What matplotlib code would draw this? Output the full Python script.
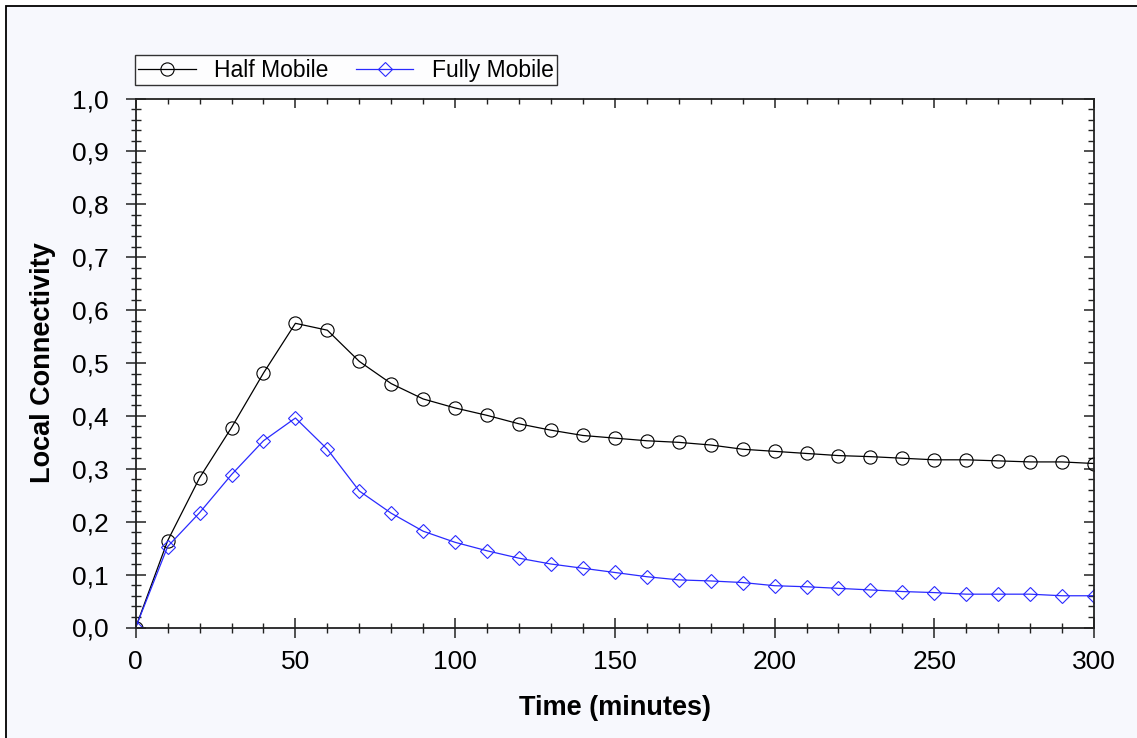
import matplotlib.pyplot as plt
from matplotlib.patches import Rectangle
from matplotlib.ticker import FixedLocator, MultipleLocator


# Daten
TIME_MIN = [0, 10, 20, 30, 40, 50, 60, 70, 80, 90, 100, 110, 120, 130, 140, 150,
            160, 170, 180, 190, 200, 210, 220, 230, 240, 250, 260, 270, 280, 290, 300]

HALF_MOBILE = [0.0, 0.164, 0.283, 0.378, 0.481, 0.575, 0.562, 0.503, 0.461, 0.432,
               0.415, 0.401, 0.385, 0.373, 0.363, 0.358, 0.353, 0.350, 0.345, 0.337,
               0.333, 0.329, 0.325, 0.323, 0.320, 0.317, 0.317, 0.315, 0.313, 0.313,
               0.310]

FULLY_MOBILE = [0.0, 0.153, 0.217, 0.289, 0.353, 0.396, 0.337, 0.258, 0.216, 0.182,
                0.161, 0.145, 0.131, 0.120, 0.112, 0.104, 0.096, 0.090, 0.088, 0.085,
                0.079, 0.077, 0.074, 0.071, 0.068, 0.066, 0.063, 0.063, 0.063, 0.060,
                0.060]

SERIES_NAMES = ["Half Mobile", "Fully Mobile"]

X_TICKS = [0, 50, 100, 150, 200, 250, 300]
X_TICK_LABELS = ["0", "50", "100", "150", "200", "250", "300"]
Y_TICKS = [0.0, 0.1, 0.2, 0.3, 0.4, 0.5, 0.6, 0.7, 0.8, 0.9, 1.0]
Y_TICK_LABELS = ["0,0", "0,1", "0,2", "0,3", "0,4", "0,5", "0,6", "0,7", "0,8", "0,9", "1,0"]

# Plot-Einstellungen
W, H = 1137, 738
DPI = 100
PANEL_BG = "#f7f8fd"
AXIS_COLOR = "#222222"
BLUE = "#2a2aff"

plt.rcParams["font.family"] = ["Liberation Sans", "DejaVu Sans"]


def main():
    fig = plt.figure(figsize=(W / DPI, H / DPI), dpi=DPI, facecolor="white")

    # Hintergrund mit Rahmen links/oben
    fig.add_artist(Rectangle((6 / W, -0.05), 1.2, 1.05 - 6 / H,
                             transform=fig.transFigure, facecolor=PANEL_BG,
                             edgecolor="black", linewidth=1.3, zorder=-10))

    ax = fig.add_axes([135.7 / W, 1 - 627.5 / H, (1094 - 135.7) / W, (627.5 - 98.5) / H])
    ax.set_facecolor("white")

    ax.plot(TIME_MIN, HALF_MOBILE, color="black", lw=0.9, marker="o", ms=9.5,
            mfc="none", mec="black", mew=0.8, label=SERIES_NAMES[0])
    ax.plot(TIME_MIN, FULLY_MOBILE, color=BLUE, lw=0.9, marker="D", ms=6.8,
            mfc="none", mec=BLUE, mew=0.8, label=SERIES_NAMES[1])

    ax.set_xlim(0, 300)
    ax.set_ylim(0, 1.0)

    for s in ax.spines.values():
        s.set_color(AXIS_COLOR)
        s.set_linewidth(1.3)

    # Achsen unten/links: Ticks durch die Linie
    ax.xaxis.set_major_locator(FixedLocator(X_TICKS))
    ax.set_xticklabels(X_TICK_LABELS)
    ax.xaxis.set_minor_locator(MultipleLocator(10))
    ax.yaxis.set_major_locator(FixedLocator(Y_TICKS))
    ax.set_yticklabels(Y_TICK_LABELS)
    ax.yaxis.set_minor_locator(MultipleLocator(0.02))

    ax.tick_params(which="major", direction="inout", length=14.4, width=1.1,
                   color=AXIS_COLOR, labelsize=19, pad=9)
    ax.tick_params(which="minor", direction="inout", length=7, width=1.0,
                   color=AXIS_COLOR)
    ax.tick_params(axis="y", which="major", pad=12)

    # Achsen oben/rechts: nur Ticks nach innen
    top = ax.secondary_xaxis("top")
    top.xaxis.set_major_locator(FixedLocator(X_TICKS))
    top.xaxis.set_minor_locator(MultipleLocator(10))
    top.tick_params(which="major", direction="in", length=7.5, width=1.1,
                    color=AXIS_COLOR, labeltop=False)
    top.tick_params(which="minor", direction="in", length=4.5, width=1.0,
                    color=AXIS_COLOR)
    top.spines["top"].set_visible(False)

    right = ax.secondary_yaxis("right")
    right.yaxis.set_major_locator(FixedLocator(Y_TICKS))
    right.yaxis.set_minor_locator(MultipleLocator(0.02))
    right.tick_params(which="major", direction="in", length=7.5, width=1.1,
                      color=AXIS_COLOR, labelright=False)
    right.tick_params(which="minor", direction="in", length=4.5, width=1.0,
                      color=AXIS_COLOR)
    right.spines["right"].set_visible(False)

    # Beschriftungen
    ax.set_xlabel("Time (minutes)", fontsize=19.5, fontweight="bold")
    ax.set_ylabel("Local Connectivity", fontsize=19.5, fontweight="bold")
    ax.xaxis.set_label_coords(0.5, -0.127)
    ax.yaxis.set_label_coords(-0.083, 0.5)

    # Legende
    leg = fig.legend(loc="lower left", bbox_to_anchor=(135 / W, 1 - 85 / H),
                     ncol=2, fontsize=16.5, frameon=True, fancybox=False,
                     borderaxespad=0, borderpad=0.15, handlelength=2.5,
                     handletextpad=0.8, columnspacing=1.2)
    leg.get_frame().set_edgecolor("black")
    leg.get_frame().set_linewidth(1.0)
    leg.get_frame().set_facecolor("white")

    fig.savefig("out.png", dpi=DPI)
    plt.close(fig)


if __name__ == "__main__":
    main()
